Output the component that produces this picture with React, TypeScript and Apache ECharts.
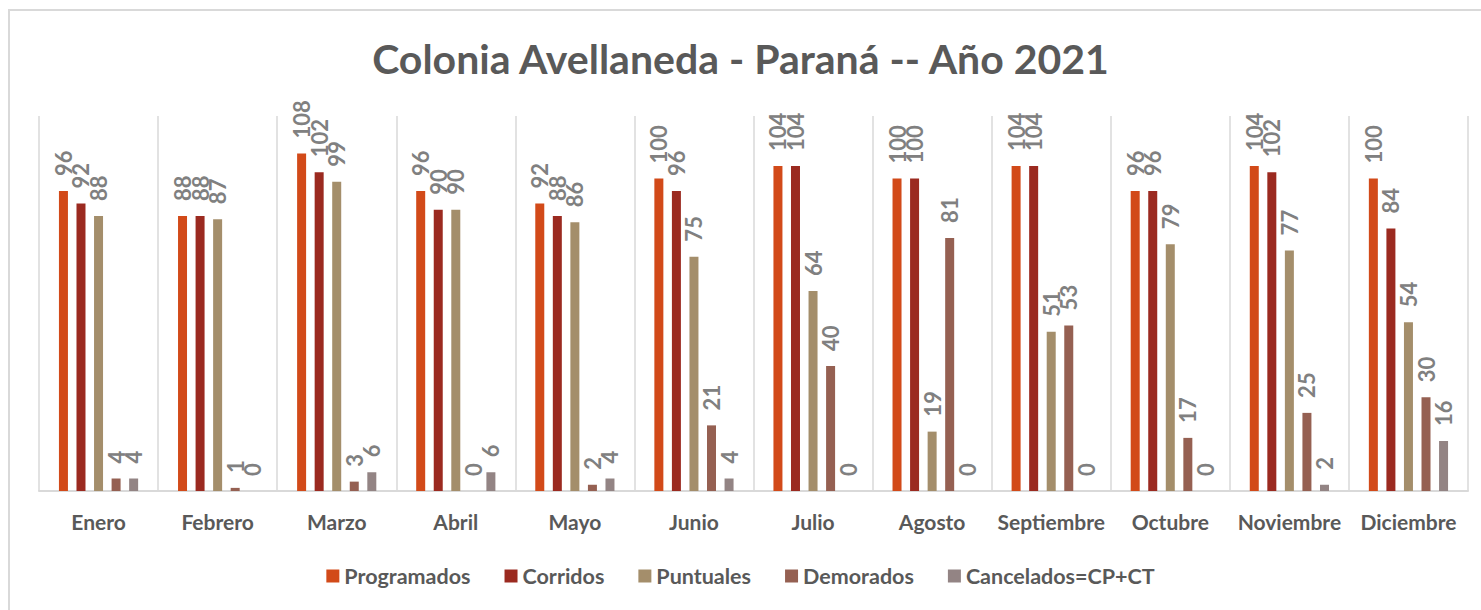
import React, { useEffect, useRef } from "react";
import * as echarts from "echarts";

const months = ["Enero", "Febrero", "Marzo", "Abril", "Mayo", "Junio", "Julio", "Agosto", "Septiembre", "Octubre", "Noviembre", "Diciembre"];
const programados = [96, 88, 108, 96, 92, 100, 104, 100, 104, 96, 104, 100];
const corridos = [92, 88, 102, 90, 88, 96, 104, 100, 104, 96, 102, 84];
const puntuales = [88, 87, 99, 90, 86, 75, 64, 19, 51, 79, 77, 54];
const demorados = [4, 1, 3, 0, 2, 21, 40, 81, 53, 17, 25, 30];
const cancelados = [4, 0, 6, 6, 4, 4, 0, 0, 0, 0, 2, 16];

const seriesNames = ["Programados", "Corridos", "Puntuales", "Demorados", "Cancelados=CP+CT"];
const seriesColors = ["#D24A19", "#9B2A20", "#A48E6B", "#956052", "#938484"];
const seriesData = [programados, corridos, puntuales, demorados, cancelados];

const FONT = "Lato, 'Open Sans', sans-serif";

export default function App() {
  const ref = useRef<HTMLDivElement>(null);
  useEffect(() => {
    document.body.style.margin = "0";
    const chart = echarts.init(ref.current!, undefined, { renderer: "svg" });
    chart.setOption({
      animation: false,
      backgroundColor: "#ffffff",
      title: {
        text: "Colonia Avellaneda - Paraná -- Año 2021",
        left: "center",
        top: 33,
        textStyle: { fontFamily: FONT, fontSize: 41, fontWeight: "bold", color: "#595959" },
      },
      graphic: [
        {
          type: "rect",
          shape: { x: 9, y: 10, width: 1520, height: 700 },
          style: { fill: "none", stroke: "#d9d9d9", lineWidth: 2 },
          silent: true,
        },
      ],
      legend: {
        bottom: 18,
        left: "center",
        itemWidth: 13,
        itemHeight: 13,
        itemGap: 34,
        icon: "rect",
        textStyle: { fontFamily: FONT, fontSize: 21.5, fontWeight: "bold", color: "#595959" },
        data: seriesNames,
      },
      grid: { left: 39, right: 13, top: 116, bottom: 119 },
      xAxis: {
        type: "category",
        data: months,
        axisLine: { lineStyle: { color: "#d9d9d9", width: 2 } },
        axisTick: { show: false },
        splitLine: { show: true, interval: 0, lineStyle: { color: "#d9d9d9", width: 1.5 } },
        axisLabel: { interval: 0, margin: 20, fontFamily: FONT, fontSize: 21, fontWeight: "bold", color: "#595959" },
      },
      yAxis: {
        type: "value",
        min: 0,
        max: 120,
        show: false,
        splitLine: { show: false },
      },
      series: seriesNames.map((name, i) => ({
        name,
        type: "bar",
        data: seriesData[i],
        barWidth: 9,
        barGap: "95%",
        itemStyle: { color: seriesColors[i] },
        label: {
          show: true,
          position: "top",
          rotate: 90,
          align: "left",
          verticalAlign: "middle",
          distance: 15,
          fontFamily: FONT,
          fontSize: 22,
          fontWeight: "bold",
          color: "#808080",
        },
      })),
    });
    return () => chart.dispose();
  }, []);
  return <div ref={ref} style={{ width: 1481, height: 610 }} />;
}
